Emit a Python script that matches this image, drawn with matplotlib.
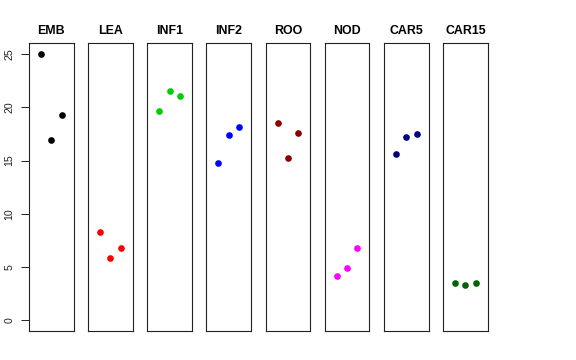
import matplotlib
matplotlib.use("Agg")
import matplotlib.pyplot as plt
import numpy as np

plt.rcParams['font.family'] = ['Liberation Sans', 'DejaVu Sans']

categories = ["EMB", "LEA", "INF1", "INF2", "ROO", "NOD", "CAR5", "CAR15"]
colors = ["black", "red", "#00CD00", "blue", "#8B0000", "magenta", "#000080", "#006400"]
emb = [25.0, 16.9, 19.3]
lea = [8.3, 5.85, 6.75]
inf1 = [19.6, 21.5, 21.05]
inf2 = [14.75, 17.35, 18.15]
roo = [18.5, 15.2, 17.6]
nod = [4.15, 4.9, 6.8]
car5 = [15.6, 17.25, 17.45]
car15 = [3.47, 3.3, 3.47]
series = [emb, lea, inf1, inf2, roo, nod, car5, car15]
yticks = [0, 5, 10, 15, 20, 25]

W, H = 576, 360
fig = plt.figure(figsize=(W / 100, H / 100), dpi=100)

ymax = max(max(s) for s in series)
ymin = 0
pad_y = 0.04 * (ymax - ymin)
left0, step, pw = 29.0, 59.14, 44.7
top_px, bot_px = 43.3, 331.0

for i, (cat, vals, col) in enumerate(zip(categories, series, colors)):
    l = left0 + i * step
    ax = fig.add_axes([l / W, 1 - bot_px / H, pw / W, (bot_px - top_px) / H])
    x = np.arange(1, len(vals) + 1)
    ax.plot(x, vals, 'o', color=col, markersize=4.8, markeredgewidth=0)
    ax.set_xlim(0 - 0.16, 4 + 0.16)
    ax.set_ylim(ymin - pad_y, ymax + pad_y)
    ax.set_xticks([])
    for sp in ax.spines.values():
        sp.set_linewidth(0.8)
        sp.set_color('#222222')
    ax.set_title(cat, fontsize=8.9, fontweight='bold', pad=7)
    if i == 0:
        ax.set_yticks(yticks)
        ax.set_yticklabels([str(t) for t in yticks], rotation=90, va='center', fontsize=7.6)
        ax.tick_params(axis='y', length=5.7, width=0.7, pad=5.0, colors='#222222')
    else:
        ax.set_yticks([])

fig.savefig("out.png", dpi=100)
